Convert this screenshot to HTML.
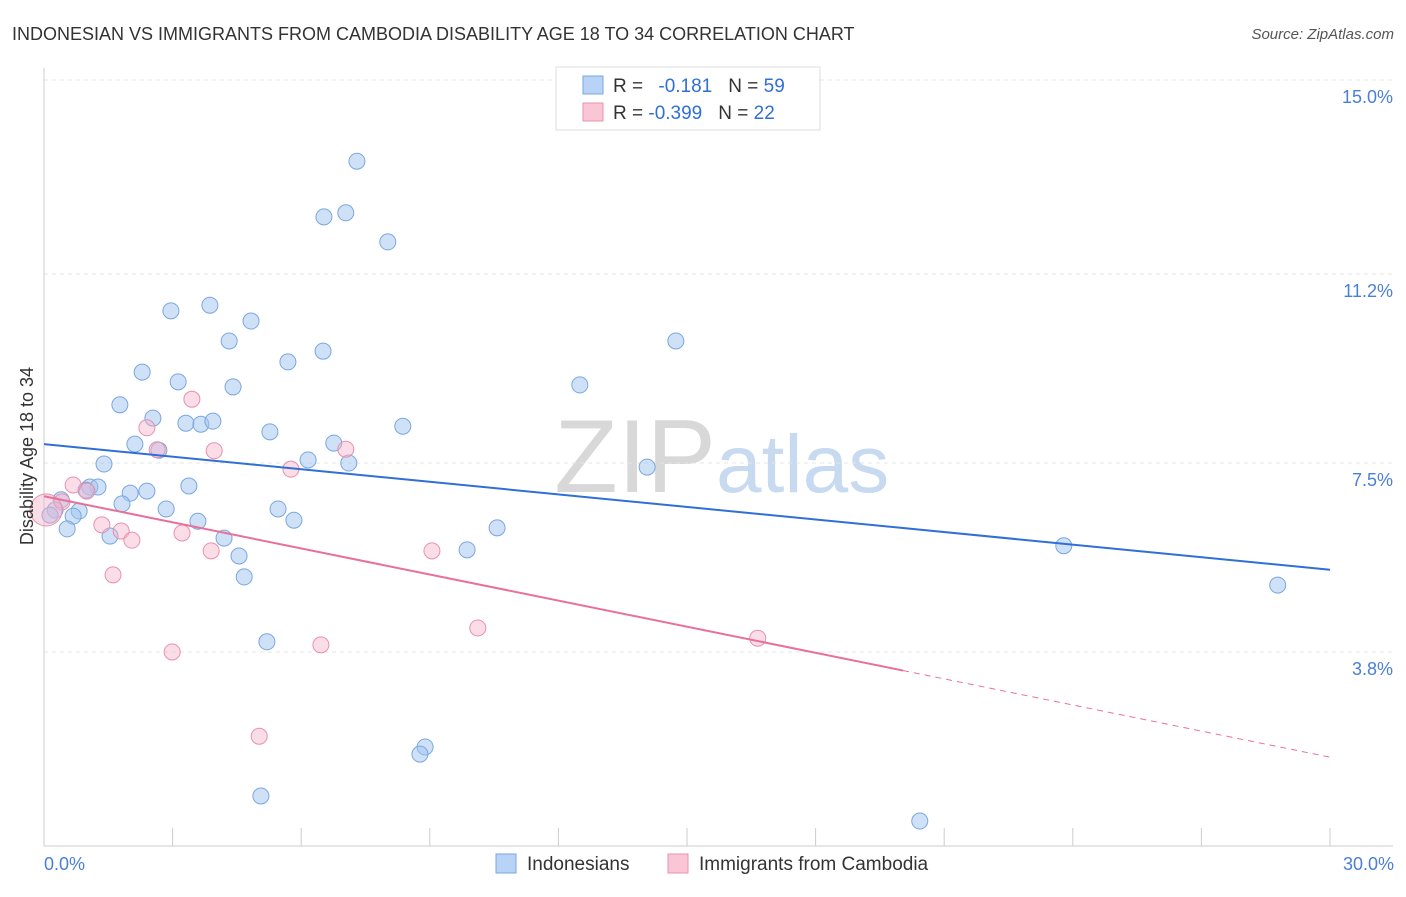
<!DOCTYPE html>
<html><head><meta charset="utf-8"><style>
body{margin:0;background:#fff;font-family:"Liberation Sans",sans-serif;}
svg text{font-family:"Liberation Sans",sans-serif;}
</style></head><body>
<svg id="c" width="1406" height="892" xmlns="http://www.w3.org/2000/svg">
<text x="12" y="40" font-size="18" fill="#333">INDONESIAN VS IMMIGRANTS FROM CAMBODIA DISABILITY AGE 18 TO 34 CORRELATION CHART</text>
<text x="1394" y="39" font-size="15" fill="#555" font-style="italic" text-anchor="end">Source: ZipAtlas.com</text>
<text x="716" y="492" font-size="104" fill="#d8d8d8" text-anchor="end" font-family="Liberation Serif">ZIP</text>
<text x="716" y="492" font-size="82" fill="#c8daf0">atlas</text>
<g id="grid"></g>
<g id="pts"></g>
<g id="lines"></g>
<text transform="translate(33,456) rotate(-90)" font-size="18" fill="#333" text-anchor="middle">Disability Age 18 to 34</text>
<text x="44" y="870" font-size="18" fill="#4a7fd6">0.0%</text>
<text x="1394" y="870" font-size="18" fill="#4a7fd6" text-anchor="end">30.0%</text>
<g>
<rect x="556" y="67" width="264" height="63" fill="#fff" stroke="#ddd"/>
<rect x="583" y="76" width="20" height="18" fill="#b8d3f5" stroke="#7aa7e0"/>
<rect x="583" y="103" width="20" height="18" fill="#fac6d6" stroke="#e890ad"/>
<text x="613" y="92" font-size="19" fill="#333">R = <tspan fill="#2f6fd6" dx="10">-0.181</tspan><tspan fill="#333" dx="16">N = </tspan><tspan fill="#2f6fd6">59</tspan></text>
<text x="613" y="119" font-size="19" fill="#333">R = <tspan fill="#2f6fd6">-0.399</tspan><tspan fill="#333" dx="16">N = </tspan><tspan fill="#2f6fd6">22</tspan></text>
</g>
<g>
<rect x="496" y="854" width="20" height="19" fill="#b8d3f5" stroke="#7aa7e0"/>
<text x="527" y="870" font-size="19" fill="#333">Indonesians</text>
<rect x="668" y="854" width="20" height="19" fill="#fac6d6" stroke="#e890ad"/>
<text x="699" y="870" font-size="19" fill="#333">Immigrants from Cambodia</text>
</g>
</svg>
<script>
const yTicks=[15.0,11.2,7.5,3.8];
const yTickLabels=["15.0%","11.2%","7.5%","3.8%"];
const xTicks=[0,3,6,9,12,15,18,21,24,27,30];
const blueX=[7.30,6.53,7.04,8.02,2.96,3.87,4.83,4.32,6.51,5.69,2.29,3.13,4.41,1.77,2.54,3.31,3.66,3.94,5.27,8.37,2.12,2.68,6.76,6.16,7.11,1.40,1.07,1.26,3.38,2.01,2.40,0.98,1.82,0.40,2.85,5.46,0.26,0.82,0.68,3.59,5.83,0.54,1.54,4.20,4.55,4.67,9.87,10.57,5.20,8.89,8.77,5.06,20.43,12.50,14.74,14.07,23.79,28.78,0.14];
const blueY=[13.41,12.32,12.40,11.83,10.48,10.59,10.28,9.89,9.69,9.48,9.28,9.09,8.99,8.64,8.38,8.28,8.26,8.32,8.11,8.22,7.87,7.75,7.89,7.56,7.50,7.48,7.03,7.03,7.05,6.91,6.95,6.97,6.70,6.78,6.60,6.60,6.58,6.56,6.46,6.36,6.38,6.21,6.07,6.03,5.68,5.27,5.80,6.23,4.00,1.94,1.80,0.98,0.49,9.03,9.89,7.42,5.88,5.11,6.48];
const pinkX=[0.42,0.68,1.00,1.35,1.80,2.05,1.61,2.40,2.64,3.45,3.97,3.22,3.90,5.76,7.04,9.05,2.99,5.02,6.46,10.12,16.65,0.05];
const pinkY=[6.74,7.07,6.95,6.29,6.17,5.99,5.31,8.19,7.76,8.75,7.74,6.13,5.78,7.38,7.77,5.78,3.80,2.15,3.94,4.27,4.07,6.58];
const blueTrend=[7.87,5.41];
const pinkTrend=[6.85,1.74];
const pinkSolidEnd=20.04;
const NS="http://www.w3.org/2000/svg";
const X=v=>44+v*(1286/30);
const Y=v=>80+(15-v)*51.07;
function mk(tag,attrs,parent){const e=document.createElementNS(NS,tag);for(const k in attrs)e.setAttribute(k,attrs[k]);parent.appendChild(e);return e;}
const grid=document.getElementById('grid');
yTicks.forEach((t,i)=>{
 const l=mk('line',{x1:44,x2:1393,y1:Y(t),y2:Y(t),stroke:'#e4e4e4','stroke-dasharray':'4 4'},grid);
 
 
 const tx=mk('text',{x:1393,y:Y(t)+23,'font-size':18,fill:'#4a7fd6','text-anchor':'end'},grid);
 tx.textContent=yTickLabels[i];
 
 
});
const ax=mk('line',{x1:44,x2:44,y1:68,y2:846,stroke:'#ccc'},grid);


const bx=mk('line',{x1:44,x2:1393,y1:846,y2:846,stroke:'#ccc'},grid);


xTicks.forEach(t=>{
 const l=mk('line',{x1:X(t),x2:X(t),y1:828,y2:846,stroke:'#ccc'},grid);
 
 
});
const pts=document.getElementById('pts');
blueX.forEach((v,i)=>{
 const c=mk('circle',{cx:X(v),cy:Y(blueY[i]),r:8,fill:'rgba(160,195,240,0.5)',stroke:'#7aa7e0','stroke-width':1},pts);
 
 
});
pinkX.forEach((v,i)=>{
 const c=mk('circle',{cx:X(v),cy:Y(pinkY[i]),r:i==pinkX.length-1?16:8,fill:'rgba(247,180,203,0.45)',stroke:'#e890ad','stroke-width':1},pts);
 
 
});
const lines=document.getElementById('lines');
const bl=mk('line',{x1:X(0),y1:Y(blueTrend[0]),x2:X(30),y2:Y(blueTrend[1]),stroke:'#2f6fd6','stroke-width':2},lines);


const pAt=x=>pinkTrend[0]+(pinkTrend[1]-pinkTrend[0])*x/30;
const pl=mk('line',{x1:X(0),y1:Y(pinkTrend[0]),x2:X(pinkSolidEnd),y2:Y(pAt(pinkSolidEnd)),stroke:'#e8709a','stroke-width':2},lines);


const pd=mk('line',{x1:X(pinkSolidEnd),y1:Y(pAt(pinkSolidEnd)),x2:X(30),y2:Y(pinkTrend[1]),stroke:'#e8709a','stroke-width':1,'stroke-dasharray':'6 5'},lines);


</script>
</body></html>
